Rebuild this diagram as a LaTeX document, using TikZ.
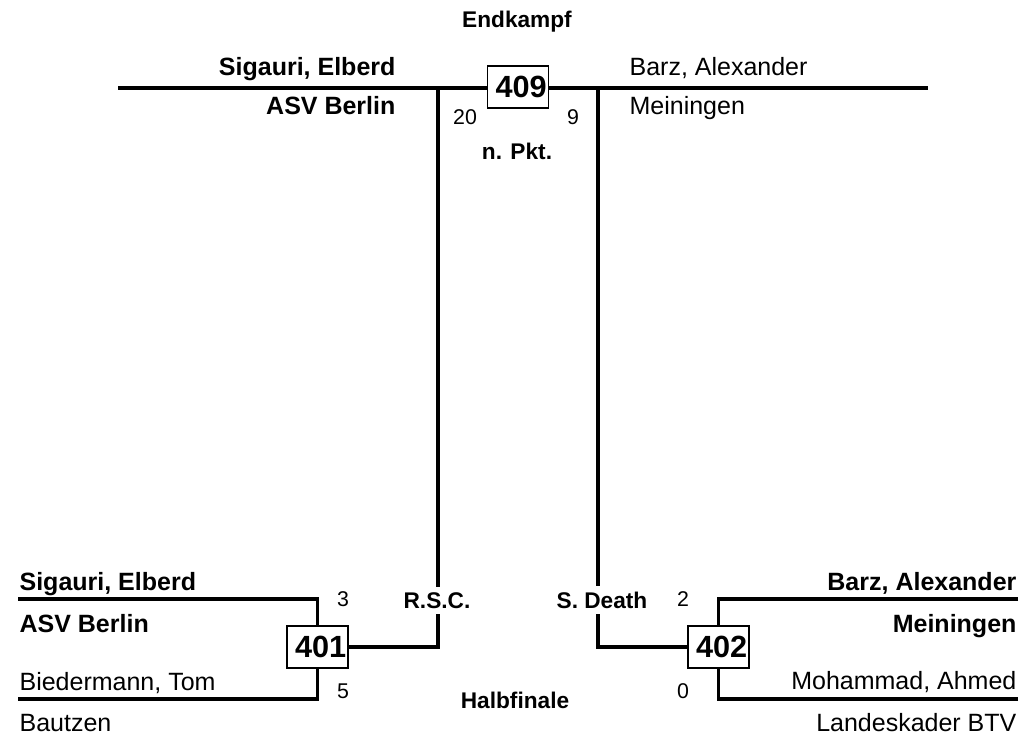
\documentclass[tikz,border=0pt]{standalone}
\usepackage{fontspec}
\setmainfont{Liberation Sans}
\usetikzlibrary{calc}

\begin{document}
\begin{tikzpicture}[x=0.75pt,y=-0.75pt,line width=2.4pt,
		kampf/.style={draw,line width=1.1pt,fill=white,font=\fontsize{23}{25}\selectfont\bfseries,
			minimum height=31.5pt,text width=43pt,align=right,inner xsep=1.5pt,inner ysep=0pt},
		spieler/.style={font=\fontsize{18.75}{20}\selectfont,inner sep=0pt},
		sieger/.style={font=\fontsize{18.75}{20}\selectfont\bfseries,inner sep=0pt},
		punkte/.style={font=\fontsize{16}{18}\selectfont,inner sep=0pt},
		runde/.style={font=\fontsize{17}{19}\selectfont\bfseries,inner sep=0pt},
		urteil/.style={runde,fill=white,inner sep=4pt}]
			\useasboundingbox (0,0) rectangle (1023,736);
			% Kampfnummern
			\node[kampf] (K409) at (518,87) {409};
			\node[kampf] (K401) at (317.5,647) {401};
			\node[kampf] (K402) at (718.5,647) {402};
			\coordinate (TL) at (118,88);
			\coordinate (TR) at (928,88);
			\coordinate (A) at (438,88);
			\coordinate (B) at (598,88);
			\coordinate (C) at (438,647);
			\coordinate (D) at (598,647);
			\coordinate (L1) at (18,599);
			\coordinate (L2) at (18,699);
			\coordinate (R1) at (1018,599);
			\coordinate (R2) at (1018,699);
			% Linien
			\draw (TL)--(K409.west |- TL);
			\draw (K409.east |- TR)--(TR);
			\draw (A)--(C)--(K401.east);
			\draw (B)--(D)--(K402.west);
			\draw (L1)--(L1 -| K401)--(K401.north);
			\draw (L2)--(L2 -| K401)--(K401.south);
			\draw (R1)--(R1 -| K402)--(K402.north);
			\draw (R2)--(R2 -| K402)--(K402.south);
			% Endkampf
			\node[runde] (endk) at (517,27) [anchor=base]{Endkampf};
			\node[sieger] (s1) at (397,75) [anchor=base east]{Sigauri, Elberd};
			\node[sieger] (v1) at (397,114) [anchor=base east]{ASV Berlin};
			\node[spieler] (s2) at (628,75) [anchor=base west]{Barz, Alexander};
			\node[spieler] (v2) at (628,114) [anchor=base west]{Meiningen};
			\node[punkte] (p1) at (465,124) [anchor=base]{20};
			\node[punkte] (p2) at (573,124) [anchor=base]{9};
			\node[runde] (erg) at (517,159) [anchor=base]{n. Pkt.};
			% Halbfinale
			\node[sieger] (s3) at (18,590) [anchor=base west]{Sigauri, Elberd};
			\node[sieger] (v3) at (18,632) [anchor=base west]{ASV Berlin};
			\node[spieler] (s4) at (18,690) [anchor=base west]{Biedermann, Tom};
			\node[spieler] (v4) at (18,731) [anchor=base west]{Bautzen};
			\node[sieger] (s5) at (1018,590) [anchor=base east]{Barz, Alexander};
			\node[sieger] (v5) at (1018,632) [anchor=base east]{Meiningen};
			\node[spieler] (s6) at (1018,689) [anchor=base east]{Mohammad, Ahmed};
			\node[spieler] (v6) at (1018,731) [anchor=base east]{Landeskader BTV};
			\node[punkte] (p3) at (343,606) [anchor=base]{3};
			\node[punkte] (p4) at (343,698) [anchor=base]{5};
			\node[punkte] (p5) at (683,606) [anchor=base]{2};
			\node[punkte] (p6) at (683,698) [anchor=base]{0};
			\node[urteil] (u1) at (437,608) [anchor=base]{R.S.C.};
			\node[urteil] (u2) at (602,608) [anchor=base]{S. Death};
			\node[runde] (halb) at (515,708) [anchor=base]{Halbfinale};
		\end{tikzpicture}
\end{document}
